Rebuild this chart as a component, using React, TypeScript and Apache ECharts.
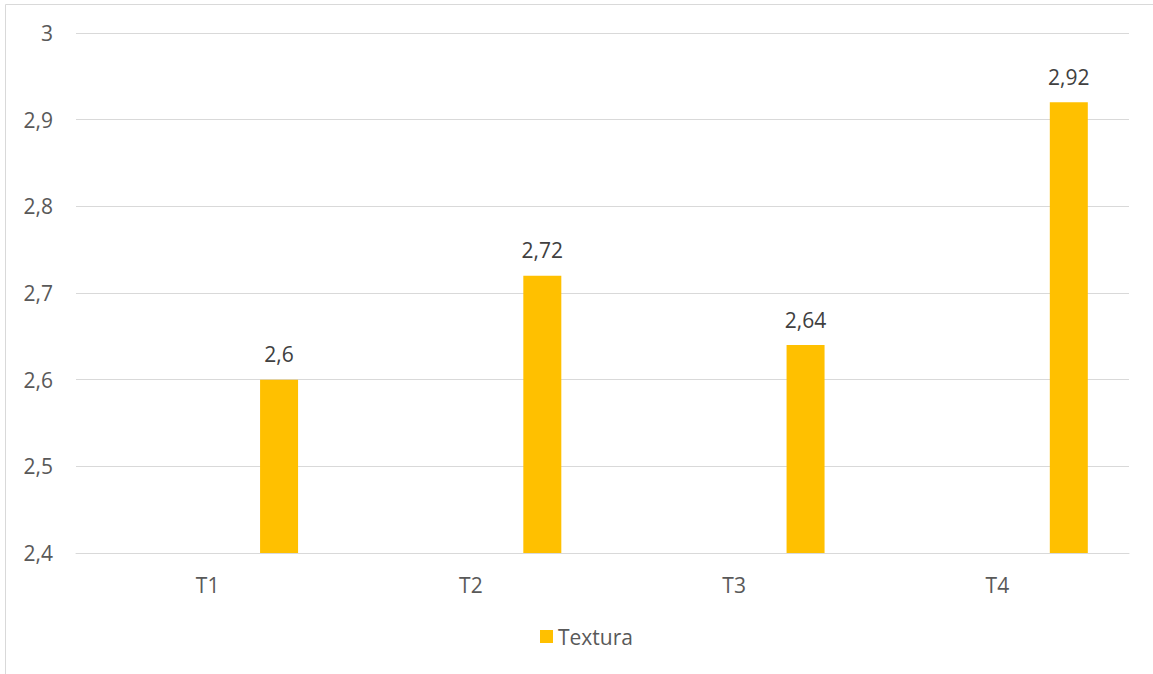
import React, { useEffect, useRef } from "react";
import * as echarts from "echarts";

const categories = ["T1", "T2", "T3", "T4"];
const texturaValues = [2.6, 2.72, 2.64, 2.92];
const placeholderValues = ["-", "-", "-", "-"];
const yTicks = { min: 2.4, max: 3, interval: 0.1 };

const fmt = (v: number) => String(Math.round(v * 100) / 100).replace(".", ",");

export default function App() {
  const ref = useRef<HTMLDivElement>(null);
  useEffect(() => {
    const chart = echarts.init(ref.current!, null, { renderer: "svg" });
    const font = "'Open Sans', 'Liberation Sans', sans-serif";
    const fs = 21;
    chart.setOption({
      animation: false,
      textStyle: { fontFamily: font },
      graphic: [
        { type: "line", shape: { x1: 5.5, y1: 4.5, x2: 1153, y2: 4.5 }, style: { stroke: "#d9d9d9", lineWidth: 1 } },
        { type: "line", shape: { x1: 5.5, y1: 4.5, x2: 5.5, y2: 674 }, style: { stroke: "#d9d9d9", lineWidth: 1 } },
      ],
      grid: { left: 76, right: 24, top: 33, bottom: 121 },
      legend: {
        bottom: 22,
        left: 535,
        data: ["Textura"],
        icon: "rect",
        itemWidth: 13,
        itemHeight: 13,
        itemGap: 6,
        textStyle: { color: "#595959", fontSize: fs, fontFamily: font },
      },
      xAxis: {
        type: "category",
        data: categories,
        axisLine: { show: true, lineStyle: { color: "#d9d9d9", width: 1 } },
        axisTick: { show: false },
        axisLabel: { color: "#595959", fontSize: fs, margin: 21, fontFamily: font },
      },
      yAxis: {
        type: "value",
        min: yTicks.min,
        max: yTicks.max,
        interval: yTicks.interval,
        axisLine: { show: false },
        axisTick: { show: false },
        splitLine: { lineStyle: { color: "#d9d9d9", width: 1 } },
        axisLabel: { color: "#595959", fontSize: fs, margin: 23, fontFamily: font, formatter: (v: number) => fmt(v) },
      },
      series: [
        {
          name: "placeholder",
          type: "bar",
          data: placeholderValues,
          barWidth: 38,
          barGap: "276%",
          itemStyle: { color: "transparent" },
        },
        {
          name: "Textura",
          type: "bar",
          data: texturaValues,
          barWidth: 38,
          barGap: "276%",
          itemStyle: { color: "#ffc000" },
          label: {
            show: true,
            position: "top",
            distance: 15,
            color: "#404040",
            fontSize: fs,
            fontFamily: font,
            formatter: (p: any) => fmt(p.value),
          },
        },
      ],
    });
    return () => chart.dispose();
  }, []);
  return <div ref={ref} style={{ position: "absolute", left: 0, top: 0, width: 1153, height: 674, background: "#fff" }} />;
}
